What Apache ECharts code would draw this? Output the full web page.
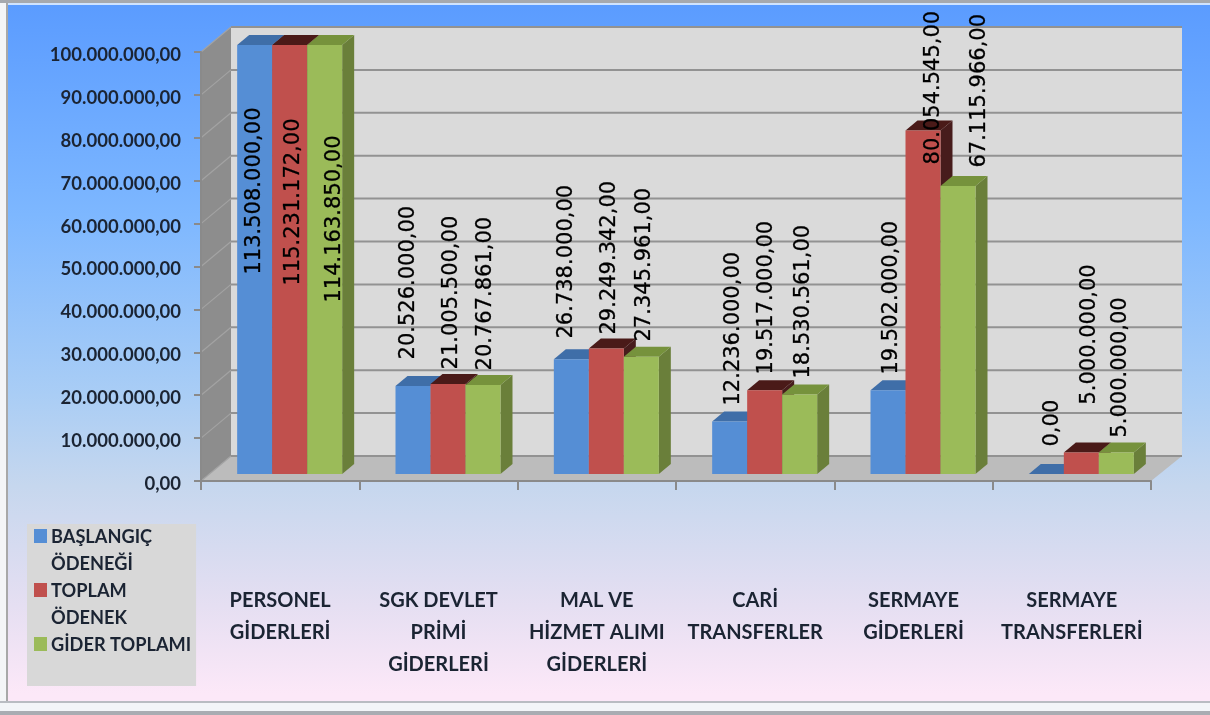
<!DOCTYPE html>
<html><head><meta charset="utf-8">
<style>html,body{margin:0;padding:0;background:#fff}#c{width:1210px;height:715px}</style>
<script src="https://cdn.jsdelivr.net/npm/echarts@6/dist/echarts.min.js"></script>
</head><body><div id="c"></div>
<script>
const categories = ['PERSONEL\nGİDERLERİ','SGK DEVLET\nPRİMİ\nGİDERLERİ','MAL VE\nHİZMET ALIMI\nGİDERLERİ','CARİ\nTRANSFERLER','SERMAYE\nGİDERLERİ','SERMAYE\nTRANSFERLERİ'];
const baslangicOdenegi = [113508000, 20526000, 26738000, 12236000, 19502000, 0];
const toplamOdenek = [115231172, 21005500, 29249342, 19517000, 80054545, 5000000];
const giderToplami = [114163850, 20767861, 27345961, 18530561, 67115966, 5000000];
const yTicks = [0,10000000,20000000,30000000,40000000,50000000,60000000,70000000,80000000,90000000,100000000];
const seriesNames = ['BAŞLANGIÇ ÖDENEĞİ','TOPLAM ÖDENEK','GİDER TOPLAMI'];
const legendLines = ['BAŞLANGIÇ\nÖDENEĞİ','TOPLAM\nÖDENEK','GİDER TOPLAMI\n '];

// label placement (dx from bar centre, dy of label start from bar top), per series
const labelNudge = [
 [[-2.5,228],[-6.8,-28],[-7.2,-22.3],[1.5,-17.5],[1.2,-17.3],[3.8,-29]],
 [[1.5,239],[1.2,-16],[0.8,-15.5],[0,-17.3],[8.2,32.4],[5.8,-49.5]],
 [[7.5,256],[0.2,-16],[0.8,-16.7],[1.5,-17.5],[19.2,-20],[2,-16.5]]
];
const palette = [
 {front:'#558ed5',top:'#3f6ea8',side:'#3f6ea8'},
 {front:'#c0504d',top:'#4a1a18',side:'#471c1c'},
 {front:'#9bbb59',top:'#76923c',side:'#6a7f3a'}
];
const FONT='Lato';
const TEXT='#1b2433';
const WALL_DX=30, WALL_DY=25, BAR_W=35, SHIFT_X=9.5, SHIFT_Y=7, BAR_DX=12, BAR_DY=10, GLYPH_DX=2, GLYPH_DY=1.5;
const Y_MAX=100000000;
const fmt=v=>{return String(v).replace(/\B(?=(\d{3})+(?!\d))/g,'.')+',00'};

function poly(points,fill,z2){return {type:'polygon',shape:{points},style:{fill},z2:z2||0,silent:true}}
function barRender(si,vals){return function(params,api){
  const idx=api.value(0), val=vals[idx];
  const clipped=Math.min(val,Y_MAX);
  const c=api.coord([idx,clipped]), b=api.coord([idx,0]);
  const cx=b[0]+SHIFT_X+(si-1)*BAR_W;
  const l=cx-BAR_W/2, r=cx+BAR_W/2, top=c[1]-SHIFT_Y, base=b[1]-SHIFT_Y;
  const col=palette[si], children=[];
  children.push(poly([[r,top],[r+BAR_DX,top-BAR_DY],[r+BAR_DX,base-BAR_DY],[r,base]],col.side,si*3+1));
  children.push(poly([[l,top],[l+BAR_DX,top-BAR_DY],[r+BAR_DX,top-BAR_DY],[r,top]],col.top,si*3+2));
  if(base>top) children.push(poly([[l,top],[r,top],[r,base],[l,base]],col.front,si*3+3));
  const n=labelNudge[si][idx];
  children.push({type:'text',x:cx+n[0]+GLYPH_DX,y:top+n[1]+GLYPH_DY,rotation:Math.PI/2,z2:50,silent:true,
    style:{text:fmt(val),font:'21px "DejaVu Sans"',fill:'#000',stroke:'#000',lineWidth:0.3,align:'left',verticalAlign:'middle'}});
  return {type:'group',children};
}}
function wallRender(params,api){
  const s=params.coordSys, L=s.x,R=s.x+s.width,T=s.y,B=s.y+s.height;
  return {type:'group',children:[
    poly([[L+WALL_DX,T-WALL_DY],[R+WALL_DX+1,T-WALL_DY],[R+WALL_DX+1,B-WALL_DY],[L+WALL_DX,B-WALL_DY]],'#dadada'),
    poly([[L,T],[L+WALL_DX,T-WALL_DY],[L+WALL_DX,B-WALL_DY],[L,B]],'#8d8d8d'),
    poly([[L,B],[L+WALL_DX,B-WALL_DY],[R+WALL_DX+1,B-WALL_DY],[R,B]],'#bcbcbc')
  ]};
}
function gridRender(params,api){
  const s=params.coordSys, y=api.coord([0,api.value(1)])[1], L=s.x, R=s.x+s.width;
  return {type:'group',children:[
    {type:'line',shape:{x1:L,y1:y,x2:L+WALL_DX,y2:y-WALL_DY},style:{stroke:'#a3a3a3',lineWidth:1.2},silent:true},
    {type:'line',shape:{x1:L+WALL_DX,y1:y-WALL_DY,x2:R+WALL_DX+1,y2:y-WALL_DY},style:{stroke:'#929292',lineWidth:2},silent:true,z2:1}
  ]};
}
const legendIcon=y=>'path://M0 0h.01v.01h-.01zM0 '+y+'h13v14h-13zM0 54h.01v.01h-.01z';
const allVals=[baslangicOdenegi,toplamOdenek,giderToplami];
const option={
  animation:false,
  backgroundColor:{type:'linear',x:0,y:0,x2:0,y2:1,colorStops:[
    {offset:0,color:'#5a9bff'},{offset:.3,color:'#7db7ff'},{offset:.55,color:'#a9cdf5'},
    {offset:.68,color:'#c6d7ee'},{offset:.85,color:'#e6dff2'},{offset:.97,color:'#fce8f8'},{offset:1,color:'#fce8f8'}]},
  graphic:[
    {type:'rect',shape:{x:0,y:0,width:6,height:715},style:{fill:'#f4f5f7'},silent:true},
    {type:'rect',shape:{x:6,y:0,width:2,height:715},style:{fill:'#a8a8a8'},silent:true},
    {type:'rect',shape:{x:0,y:0,width:1210,height:3},style:{fill:'#a6a9ae'},silent:true},
    {type:'rect',shape:{x:8,y:3,width:1202,height:2},style:{fill:'#cfe3ff'},silent:true},
    {type:'rect',shape:{x:0,y:701,width:1210,height:2},style:{fill:'#b9bcc2'},silent:true},
    {type:'rect',shape:{x:0,y:703,width:1210,height:8},style:{fill:'#f3f5f8'},silent:true},
    {type:'rect',shape:{x:0,y:711,width:1210,height:4},style:{fill:'#a9acb2'},silent:true}
  ],
  grid:{left:201,right:59,top:52,bottom:234,containLabel:false},
  legend:{
    left:27,top:524,orient:'vertical',padding:[0,5,0,7],itemGap:0,
    itemWidth:13,itemHeight:54,backgroundColor:'#d8d8d8',selectedMode:false,
    data:seriesNames.map(n=>({name:n,icon:legendIcon(5)})),
    formatter:n=>legendLines[seriesNames.indexOf(n)],
    textStyle:{fontFamily:FONT,fontWeight:'bold',fontSize:18.2,lineHeight:27,color:TEXT,padding:[0,0,0,-1]}
  },
  xAxis:{type:'category',data:categories,
    axisLine:{lineStyle:{color:'#8a8a8a',width:2}},
    axisTick:{show:true,length:9,lineStyle:{color:'#8a8a8a',width:2}},
    axisLabel:{interval:0,margin:104,fontFamily:FONT,fontWeight:'bold',fontSize:20,lineHeight:32,color:TEXT,verticalAlign:'top'},
    z:5},
  yAxis:{type:'value',min:0,max:Y_MAX,interval:10000000,
    axisLine:{show:true,lineStyle:{color:'#8a8a8a',width:2}},
    axisTick:{show:true,length:7,lineStyle:{color:'#8a8a8a',width:2}},
    splitLine:{show:false},
    axisLabel:{formatter:fmt,margin:20,fontFamily:FONT,fontWeight:'bold',fontSize:18.5,color:TEXT,verticalAlign:'top',lineHeight:6},
    z:5},
  tooltip:{show:false},
  series:[
    {name:'wall',type:'custom',coordinateSystem:'cartesian2d',clip:false,z:1,silent:true,encode:{x:0,y:1},data:[[0,0]],renderItem:wallRender},
    {name:'grid',type:'custom',coordinateSystem:'cartesian2d',clip:false,z:1,silent:true,encode:{x:0,y:1},data:yTicks.map(v=>[0,v]),renderItem:gridRender},
    ...seriesNames.map((n,si)=>({name:n,type:'custom',coordinateSystem:'cartesian2d',clip:false,z:3,silent:true,
      itemStyle:{color:palette[si].front},encode:{x:0,y:1},
      data:allVals[si].map((v,i)=>[i,v]),renderItem:barRender(si,allVals[si])}))
  ]
};
echarts.init(document.getElementById('c')).setOption(option);
</script></body></html>
